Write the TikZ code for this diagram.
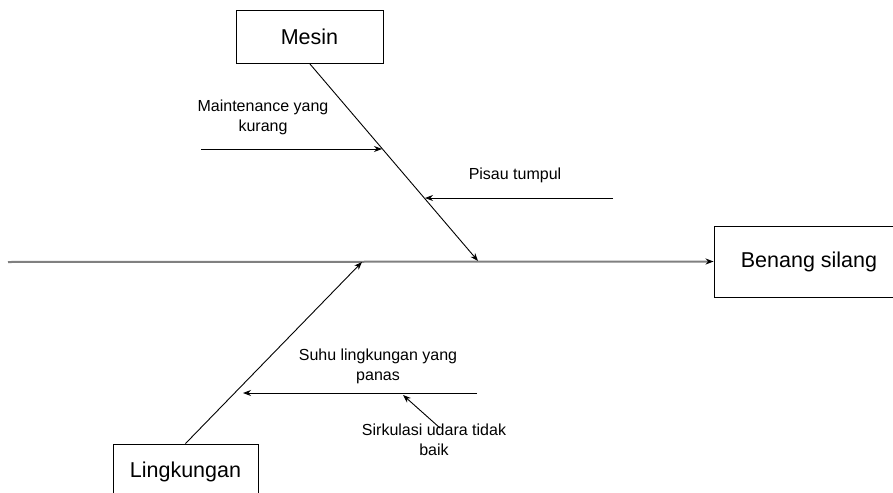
\documentclass[tikz,border=0pt]{standalone}
\usepackage{fontspec}
\setmainfont{Liberation Sans}
\usetikzlibrary{arrows.meta,positioning}

\begin{document}
\begin{tikzpicture}[x=1pt,y=-1pt,>={Stealth[length=8pt,width=6pt]},
  cause/.style={draw,line width=0.9pt,font=\fontsize{21.5}{25}\selectfont},
  lbl/.style={align=center,font=\fontsize{16}{20}\selectfont},
  bone/.style={->,line width=0.9pt},
  spine/.style={-{Stealth[length=8pt,width=6pt,color=black]},line width=2pt,draw=gray}]
  \useasboundingbox (0,0) rectangle (893,492);
  \clip (0,0) rectangle (893,492);

  \node[cause,minimum width=147pt,minimum height=53pt] (mesin) at (309.5,36.5) {Mesin};
  \node[cause,minimum width=190pt,minimum height=71pt] (benang) at (809,261.5) {Benang silang};
  \node[cause,minimum width=145pt,minimum height=56pt] (lingk) at (185.5,472) {Lingkungan};

  \coordinate (tail) at (8,262);
  \coordinate (hm) at (478,261);
  \coordinate (hl) at (362,262);
  \draw[spine] (tail) -- (benang.west);
  \draw[bone] (mesin.south) -- (hm);
  \draw[bone] (lingk.north) -- (hl);

  % sebab mesin
  \node[lbl] (maint) at (263,117) {Maintenance yang\\kurang};
  \coordinate (m0) at (201,149);
  \coordinate (m1) at (382,149);
  \draw[bone] (m0) -- (m1);
  \node[lbl] (pisau) at (515,175) {Pisau tumpul};
  \coordinate (p0) at (613,198);
  \coordinate (p1) at (425,198);
  \draw[bone] (p0) -- (p1);

  % sebab lingkungan
  \node[lbl] (suhu) at (378,366) {Suhu lingkungan yang\\panas};
  \coordinate (s0) at (477,393);
  \coordinate (s1) at (243,393);
  \draw[bone] (s0) -- (s1);
  \node[lbl] (sirk) at (434,440) {Sirkulasi udara tidak\\baik};
  \coordinate (k0) at (440,428);
  \coordinate (k1) at (403,395);
  \draw[bone] (k0) -- (k1);
\end{tikzpicture}
\end{document}
